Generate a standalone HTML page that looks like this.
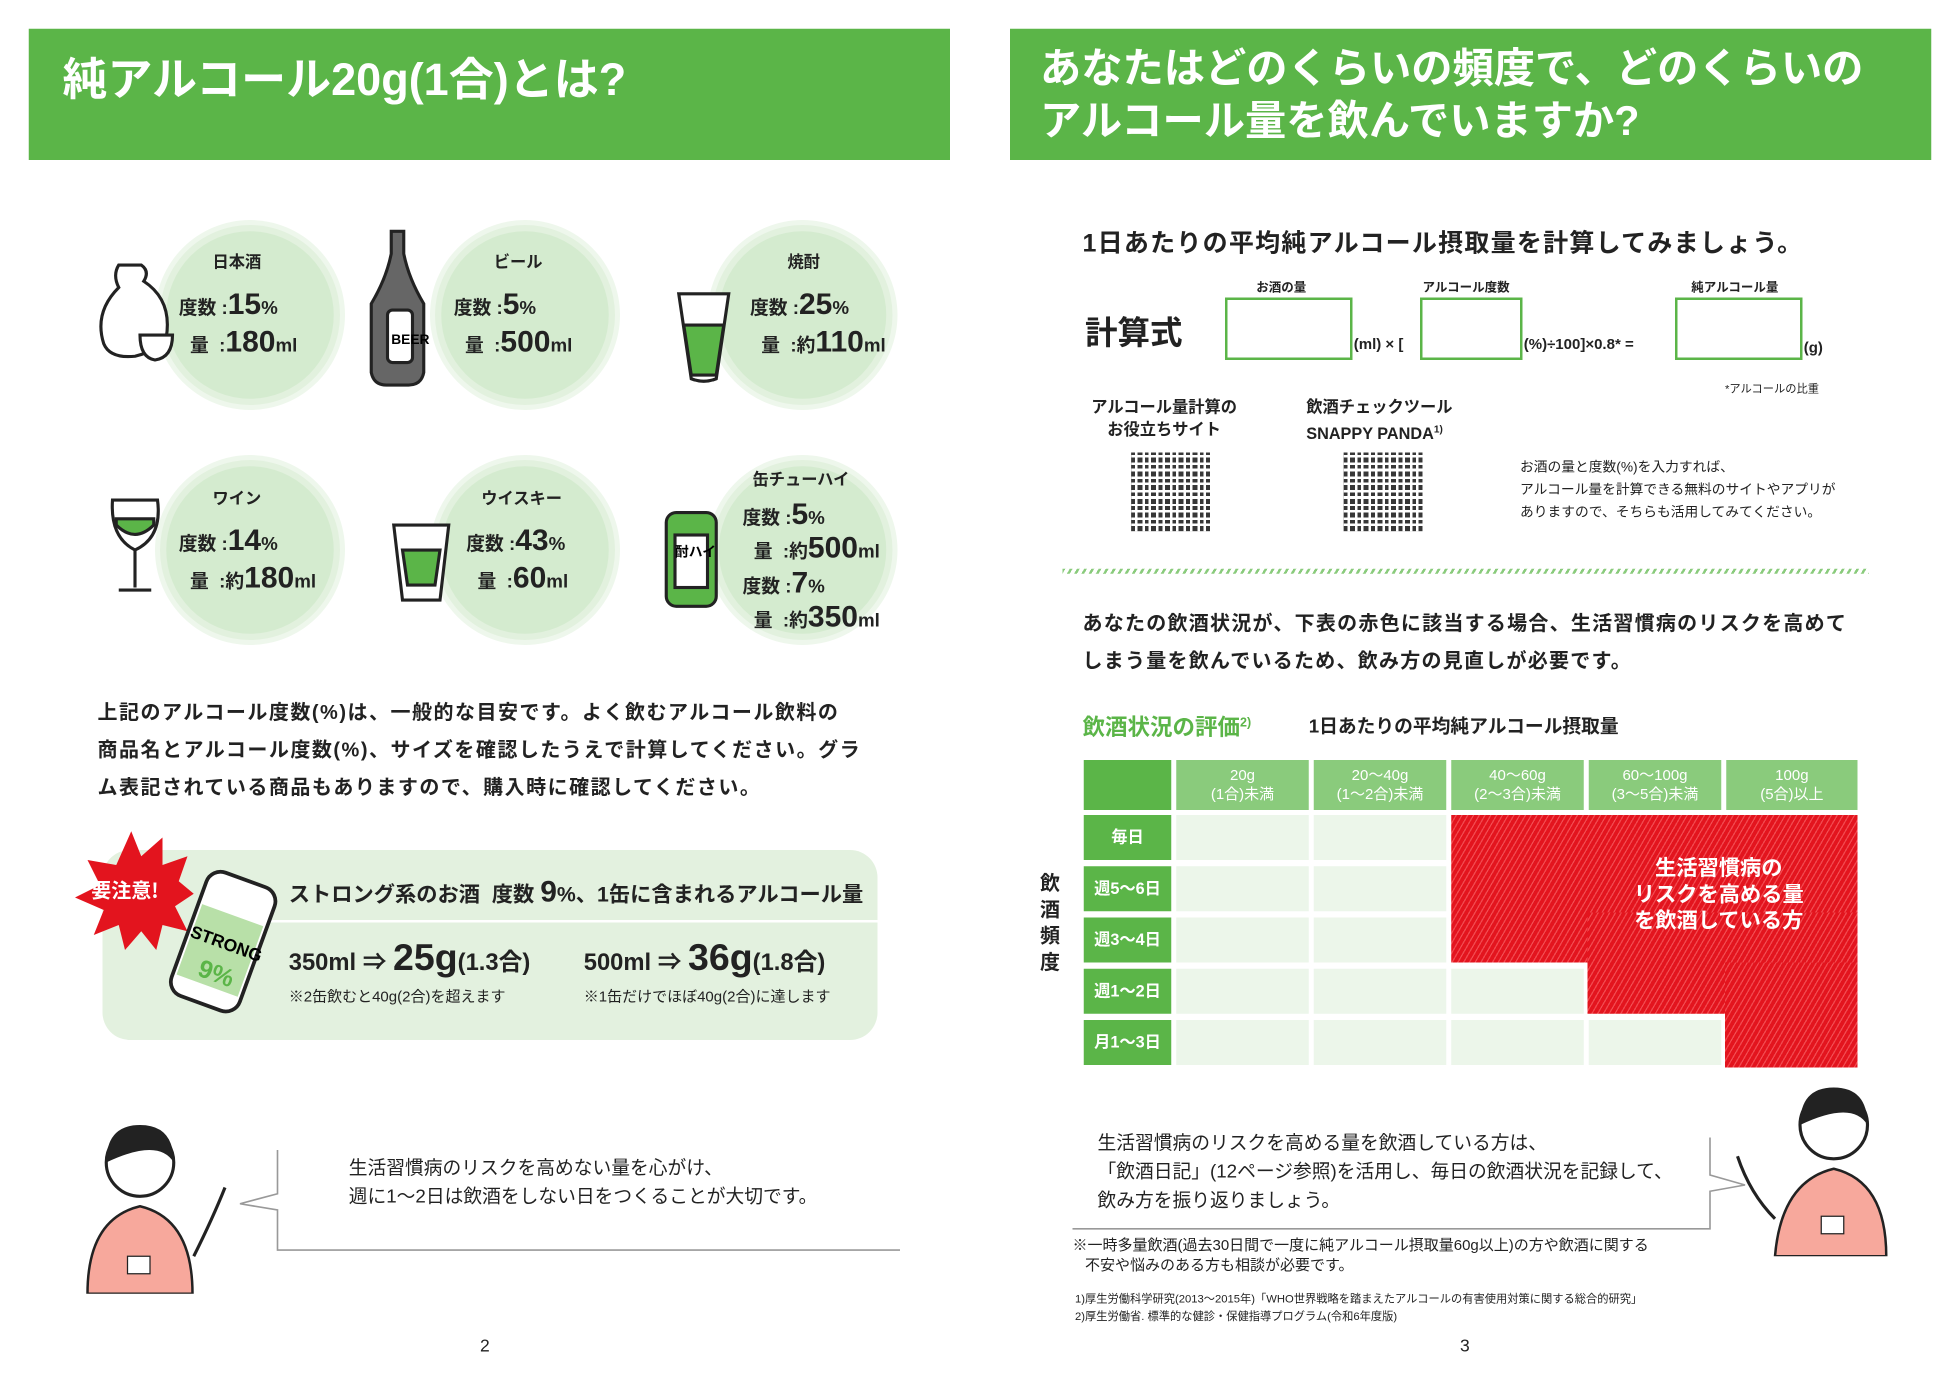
<!DOCTYPE html>
<html><head><meta charset="utf-8">
<style>
html,body{margin:0;padding:0;background:#fff;overflow:hidden;width:1960px;height:1386px}
#w{position:absolute;left:0;top:0;width:1568px;height:1109px;transform:scale(1.25);transform-origin:0 0;font-family:"Liberation Sans","Noto Sans CJK JP",sans-serif;color:#222}
.a{position:absolute;white-space:nowrap}
.hdr{position:absolute;background:#5bb548;color:#fff;font-weight:bold}
.circ{position:absolute;width:134px;height:134px;border-radius:50%;background:#d4ebcf;box-shadow:0 0 0 5px #e2f1de,0 0 0 9px #eef7ec}
.dl{position:absolute;font-weight:bold;font-size:15px;line-height:1}
.big{font-size:24px}
.cell{position:absolute;background:#ecf6ea}
.hc{position:absolute;background:#8acb7c;color:#fff;font-size:12px;text-align:center;line-height:15px;padding-top:5px;box-sizing:border-box}
.rc{position:absolute;background:#5bb548;color:#fff;font-size:13px;font-weight:bold;text-align:center;line-height:36px}
.red{position:absolute;background:repeating-linear-gradient(120deg,#e3141e 0 3px,#f24a50 3px 4px)}
.box{position:absolute;border:2px solid #5bb548;background:#fff}
.qr{position:absolute;width:63px;height:63px;background:repeating-linear-gradient(90deg,#222 0 3px,#fff 3px 5px,#222 5px 9px,#fff 9px 11px),#222;opacity:.9}
.qr:before{content:"";position:absolute;inset:0;background:repeating-linear-gradient(0deg,transparent 0 4px,#fff 4px 6px,transparent 6px 9px,#fff 9px 11px)}
</style></head><body><div id="w">
<div class="hdr" style="left:23px;top:23px;width:737px;height:105px"><div class="a" style="left:27px;top:12px;font-size:36px">純アルコール20g(1合)とは?</div></div>
<div class="hdr" style="left:808px;top:23px;width:737px;height:105px"><div class="a" style="left:24px;top:11px;font-size:33px;line-height:42px">あなたはどのくらいの頻度で、どのくらいの<br>アルコール量を飲んでいますか?</div></div>

<div class="circ" style="left:133px;top:185px"></div>
<div class="circ" style="left:353px;top:185px"></div>
<div class="circ" style="left:575px;top:185px"></div>
<div class="circ" style="left:133px;top:373px"></div>
<div class="circ" style="left:353px;top:373px"></div>
<div class="circ" style="left:575px;top:373px"></div>

<div class="dl" style="left:170px;top:203px;font-size:13px">日本酒</div>
<div class="dl" style="left:143px;top:232px">度数 :<span class="big">15</span>%</div>
<div class="dl" style="left:152px;top:262px">量 &nbsp;:<span class="big">180</span>ml</div>
<div class="dl" style="left:395px;top:203px;font-size:13px">ビール</div>
<div class="dl" style="left:363px;top:232px">度数 :<span class="big">5</span>%</div>
<div class="dl" style="left:372px;top:262px">量 &nbsp;:<span class="big">500</span>ml</div>
<div class="dl" style="left:630px;top:203px;font-size:13px">焼酎</div>
<div class="dl" style="left:600px;top:232px">度数 :<span class="big">25</span>%</div>
<div class="dl" style="left:609px;top:262px">量 &nbsp;:約<span class="big">110</span>ml</div>
<div class="dl" style="left:170px;top:392px;font-size:13px">ワイン</div>
<div class="dl" style="left:143px;top:421px">度数 :<span class="big">14</span>%</div>
<div class="dl" style="left:152px;top:451px">量 &nbsp;:約<span class="big">180</span>ml</div>
<div class="dl" style="left:385px;top:392px;font-size:13px">ウイスキー</div>
<div class="dl" style="left:373px;top:421px">度数 :<span class="big">43</span>%</div>
<div class="dl" style="left:382px;top:451px">量 &nbsp;:<span class="big">60</span>ml</div>
<div class="dl" style="left:602px;top:377px;font-size:13px">缶チューハイ</div>
<div class="dl" style="left:594px;top:400px">度数 :<span class="big">5</span>%</div>
<div class="dl" style="left:603px;top:427px">量 &nbsp;:約<span class="big">500</span>ml</div>
<div class="dl" style="left:594px;top:455px">度数 :<span class="big">7</span>%</div>
<div class="dl" style="left:603px;top:482px">量 &nbsp;:約<span class="big">350</span>ml</div>

<svg class="a" style="left:75px;top:180px" width="660" height="330" viewBox="0 0 660 330">
 <g stroke="#222" stroke-width="2.5" fill="#fff">
  <path d="M20 32 q-5 8 0 18 q-20 20 -12 45 q5 12 25 10 q20 -5 25 -15 q5 -30 -18 -45 q5 -8 -2 -13z"/>
  <path d="M37 88 q0 18 12 20 q14 -2 14 -20z"/>
  <path d="M238 5 h10 v18 q4 20 16 40 v55 q-2 10 -12 10 h-18 q-10 0 -12 -10 v-55 q12 -20 16 -40z" fill="#666"/>
  <rect x="235" y="68" width="20" height="42" rx="4" fill="#fff"/>
  <path d="M468 55 l10 68 q10 4 20 0 l10 -68 z"/><path d="M472 80 l6 40 h20 l6 -40z" fill="#5bb548"/>
  <path d="M15 220 q-2 30 18 40 q22 -10 18 -40z"/><path d="M18 240 q15 15 30 0 v-5 h-30z" fill="#5bb548"/><path d="M33 260 v30 M20 292 h26"/>
  <path d="M240 240 l7 60 h30 l7 -60z"/><path d="M247 260 l4 28 h22 l4 -28z" fill="#5bb548"/>
  <rect x="458" y="230" width="40" height="75" rx="8" fill="#5bb548"/><rect x="465" y="248" width="26" height="42" fill="#fff"/>
 </g>
 <text x="238" y="95" font-size="11" font-weight="bold" font-family="Liberation Sans">BEER</text>
 <text x="465" y="265" font-size="11" font-weight="bold" font-family="Noto Sans CJK JP">酎ハイ</text>
</svg>

<div class="a" style="left:78px;top:556px;font-size:16px;font-weight:bold;line-height:30px;letter-spacing:1.2px">上記のアルコール度数(%)は、一般的な目安です。よく飲むアルコール飲料の<br>商品名とアルコール度数(%)、サイズを確認したうえで計算してください。グラ<br>ム表記されている商品もありますので、購入時に確認してください。</div>

<div class="a" style="left:82px;top:680px;width:620px;height:152px;border-radius:22px;background:#e3f1df"></div>
<div class="a" style="left:215px;top:736px;width:487px;height:2px;background:#fff"></div>
<div class="a" style="left:231px;top:700px;font-size:17px;font-weight:bold">ストロング系のお酒 &nbsp;度数 <span style="font-size:24px">9</span>%、1缶に含まれるアルコール量</div>
<div class="a" style="left:231px;top:750px;font-size:19px;font-weight:bold">350ml ⇒ <span style="font-size:30px">25g</span>(1.3合)</div>
<div class="a" style="left:467px;top:750px;font-size:19px;font-weight:bold">500ml ⇒ <span style="font-size:30px">36g</span>(1.8合)</div>
<div class="a" style="left:231px;top:788px;font-size:12px">※2缶飲むと40g(2合)を超えます</div>
<div class="a" style="left:467px;top:788px;font-size:12px">※1缶だけでほぼ40g(2合)に達します</div>
<svg class="a" style="left:55px;top:660px" width="170" height="160">
 <polygon points="50,5 58,25 75,10 75,32 95,25 88,45 100,55 85,65 95,85 75,80 70,100 58,85 45,100 40,80 20,88 28,68 5,58 25,48 15,28 38,32" fill="#e3141e"/>
 <text x="18" y="58" font-size="16" font-weight="bold" fill="#fff" font-family="Noto Sans CJK JP">要注意!</text>
 <g transform="rotate(20 120 100)"><rect x="92" y="40" width="58" height="105" rx="12" fill="#fff" stroke="#222" stroke-width="3"/><rect x="95" y="70" width="52" height="60" fill="#b8e0a8"/><text x="94" y="98" font-size="14" font-weight="bold" font-family="Liberation Sans">STRONG</text><text x="110" y="125" font-size="20" font-weight="bold" fill="#5bb548">9%</text></g>
</svg>

<svg class="a" style="left:60px;top:895px" width="670" height="140">
 <circle cx="52" cy="35" r="27" fill="#fff" stroke="#222" stroke-width="2.5"/><path d="M25 35 q0 -30 27 -30 q27 0 27 30 q-12 -20 -54 0z" fill="#222"/>
 <path d="M10 140 q0 -60 42 -70 q42 10 42 70z" fill="#f7a89c" stroke="#222" stroke-width="2"/>
 <rect x="42" y="110" width="18" height="14" fill="#fff" stroke="#222"/>
 <path d="M95 110 q15 -30 25 -55" stroke="#222" stroke-width="2.5" fill="none"/>
 <path d="M162 25 v35 l-30 8 l30 5 v32 h498" stroke="#999" stroke-width="1.3" fill="none"/>
</svg>
<div class="a" style="left:279px;top:923px;font-size:15px;line-height:23px">生活習慣病のリスクを高めない量を心がけ、<br>週に1～2日は飲酒をしない日をつくることが大切です。</div>
<div class="a" style="left:384px;top:1068px;font-size:14px">2</div>

<div class="a" style="left:866px;top:178px;font-size:20px;font-weight:bold;letter-spacing:1px">1日あたりの平均純アルコール摂取量を計算してみましょう。</div>
<div class="a" style="left:868px;top:246px;font-size:26px;font-weight:bold">計算式</div>
<div class="a" style="left:1005px;top:221px;font-size:10px;font-weight:bold">お酒の量</div>
<div class="a" style="left:1138px;top:221px;font-size:10px;font-weight:bold">アルコール度数</div>
<div class="a" style="left:1353px;top:221px;font-size:10px;font-weight:bold">純アルコール量</div>
<div class="box" style="left:980px;top:238px;width:98px;height:46px"></div>
<div class="box" style="left:1136px;top:238px;width:78px;height:46px"></div>
<div class="box" style="left:1340px;top:238px;width:98px;height:46px"></div>
<div class="a" style="left:1083px;top:268px;font-size:12px;font-weight:bold">(ml) × [</div>
<div class="a" style="left:1219px;top:268px;font-size:12px;font-weight:bold">(%)÷100]×0.8* =</div>
<div class="a" style="left:1443px;top:271px;font-size:12px;font-weight:bold">(g)</div>
<div class="a" style="left:1380px;top:304px;font-size:9px">*アルコールの比重</div>
<div class="a" style="left:873px;top:317px;font-size:13px;font-weight:bold;line-height:18px;text-align:center">アルコール量計算の<br>お役立ちサイト</div>
<div class="a" style="left:1045px;top:317px;font-size:13px;font-weight:bold;line-height:18px">飲酒チェックツール<br>SNAPPY PANDA<sup style="font-size:8px">1)</sup></div>
<div class="qr" style="left:905px;top:362px"></div>
<div class="qr" style="left:1075px;top:362px"></div>
<div class="a" style="left:1216px;top:365px;font-size:11px;line-height:18px">お酒の量と度数(%)を入力すれば、<br>アルコール量を計算できる無料のサイトやアプリが<br>ありますので、そちらも活用してみてください。</div>
<div class="a" style="left:850px;top:455px;width:645px;height:4px;background:repeating-linear-gradient(120deg,#8acb7c 0 2px,transparent 2px 5px)"></div>
<div class="a" style="left:866px;top:485px;font-size:16px;font-weight:bold;line-height:30px;letter-spacing:1px">あなたの飲酒状況が、下表の赤色に該当する場合、生活習慣病のリスクを高めて<br>しまう量を飲んでいるため、飲み方の見直しが必要です。</div>
<div class="a" style="left:866px;top:568px;font-size:18px;font-weight:bold;color:#5bb548">飲酒状況の評価<sup style="font-size:10px">2)</sup></div>
<div class="a" style="left:1047px;top:570px;font-size:15px;font-weight:bold">1日あたりの平均純アルコール摂取量</div>

<div class="a" style="left:867px;top:608px;width:70px;height:40px;background:#5bb548"></div>
<div class="hc" style="left:941px;top:608px;width:106px;height:40px">20g<br>(1合)未満</div>
<div class="hc" style="left:1051px;top:608px;width:106px;height:40px">20～40g<br>(1～2合)未満</div>
<div class="hc" style="left:1161px;top:608px;width:106px;height:40px">40～60g<br>(2～3合)未満</div>
<div class="hc" style="left:1271px;top:608px;width:106px;height:40px">60～100g<br>(3～5合)未満</div>
<div class="hc" style="left:1381px;top:608px;width:105px;height:40px">100g<br>(5合)以上</div>
<div class="rc" style="left:867px;top:652px;width:70px;height:36px">毎日</div>
<div class="rc" style="left:867px;top:693px;width:70px;height:36px">週5～6日</div>
<div class="rc" style="left:867px;top:734px;width:70px;height:36px">週3～4日</div>
<div class="rc" style="left:867px;top:775px;width:70px;height:36px">週1～2日</div>
<div class="rc" style="left:867px;top:816px;width:70px;height:36px">月1～3日</div>
<div class="cell" style="left:941px;top:652px;width:106px;height:36px"></div><div class="cell" style="left:1051px;top:652px;width:106px;height:36px"></div>
<div class="cell" style="left:941px;top:693px;width:106px;height:36px"></div><div class="cell" style="left:1051px;top:693px;width:106px;height:36px"></div>
<div class="cell" style="left:941px;top:734px;width:106px;height:36px"></div><div class="cell" style="left:1051px;top:734px;width:106px;height:36px"></div><div class="cell" style="left:1161px;top:734px;width:106px;height:36px"></div>
<div class="cell" style="left:941px;top:775px;width:106px;height:36px"></div><div class="cell" style="left:1051px;top:775px;width:106px;height:36px"></div><div class="cell" style="left:1161px;top:775px;width:106px;height:36px"></div><div class="cell" style="left:1271px;top:775px;width:106px;height:36px"></div>
<div class="cell" style="left:941px;top:816px;width:106px;height:36px"></div><div class="cell" style="left:1051px;top:816px;width:106px;height:36px"></div><div class="cell" style="left:1161px;top:816px;width:106px;height:36px"></div><div class="cell" style="left:1271px;top:816px;width:106px;height:36px"></div>
<div class="red" style="left:1161px;top:652px;width:325px;height:118px"></div>
<div class="red" style="left:1270px;top:730px;width:216px;height:81px"></div>
<div class="red" style="left:1380px;top:770px;width:106px;height:84px"></div>
<div class="a" style="left:1290px;top:684px;width:170px;text-align:center;color:#fff;font-size:17px;font-weight:bold;line-height:21px">生活習慣病の<br>リスクを高める量<br>を飲酒している方</div>
<div class="a" style="left:832px;top:697px;font-size:16px;font-weight:bold;line-height:21px;width:18px;white-space:normal">飲酒頻度</div>

<div class="a" style="left:878px;top:903px;font-size:15px;line-height:23px">生活習慣病のリスクを高める量を飲酒している方は、<br>「飲酒日記」(12ページ参照)を活用し、毎日の飲酒状況を記録して、<br>飲み方を振り返りましょう。</div>
<svg class="a" style="left:855px;top:865px" width="690" height="140">
 <path d="M3 118 h510 v-30 l28 -5 l-28 -8 v-30" stroke="#999" stroke-width="1.3" fill="none"/>
 <circle cx="612" cy="35" r="27" fill="#fff" stroke="#222" stroke-width="2.5"/><path d="M585 35 q0 -30 27 -30 q27 0 27 30 q-12 -20 -54 0z" fill="#222"/>
 <path d="M565 140 q5 -60 47 -70 q42 10 42 70z" fill="#f7a89c" stroke="#222" stroke-width="2"/>
 <rect x="602" y="108" width="18" height="14" fill="#fff" stroke="#222"/>
 <path d="M565 110 q-20 -20 -30 -50" stroke="#222" stroke-width="2.5" fill="none"/>
</svg>
<div class="a" style="left:858px;top:988px;font-size:12px;line-height:16px">※一時多量飲酒(過去30日間で一度に純アルコール摂取量60g以上)の方や飲酒に関する<br>&nbsp;&nbsp;&nbsp;不安や悩みのある方も相談が必要です。</div>
<div class="a" style="left:860px;top:1032px;font-size:9px;line-height:14px">1)厚生労働科学研究(2013～2015年)「WHO世界戦略を踏まえたアルコールの有害使用対策に関する総合的研究」<br>2)厚生労働省. 標準的な健診・保健指導プログラム(令和6年度版)</div>
<div class="a" style="left:1168px;top:1068px;font-size:14px">3</div>
</div></body></html>
